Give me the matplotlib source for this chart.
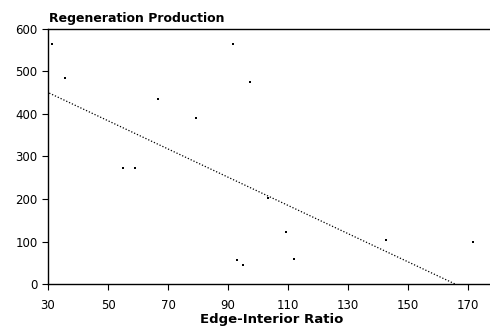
import matplotlib
matplotlib.use("Agg")
import matplotlib.pyplot as plt

# Data
ratio = [31.2, 35.7, 55.0, 59.0, 66.8, 79.3, 91.7, 92.9, 95.1, 97.3, 103.4, 109.2, 112.1, 142.6, 171.6]
production = [564, 484, 274, 274, 435, 390, 564, 56, 45, 475, 203, 122, 60, 104, 100]
fit_x = [30.4, 165.7]
fit_y = [449, 0]
xticks = [30, 50, 70, 90, 110, 130, 150, 170]
yticks = [0, 100, 200, 300, 400, 500, 600]

fig = plt.figure(figsize=(4.9, 3.28), dpi=100)
ax = fig.add_axes([0.098, 0.134, 0.902, 0.778])

ax.plot(fit_x, fit_y, linestyle=(0, (1, 1.5)), color="black", linewidth=0.9)
ax.scatter(ratio, production, s=3, color="black", marker="s", linewidths=0)

ax.set_xlim(30, 177.3)
ax.set_ylim(0, 600)
ax.set_xticks(xticks)
ax.set_yticks(yticks)
ax.tick_params(axis="both", labelsize=8.5, length=4, width=0.8, color="black", direction="out")
ax.tick_params(axis="x", pad=7)

ax.spines["right"].set_visible(False)
for s in ["left", "bottom", "top"]:
    ax.spines[s].set_linewidth(1.0)
    ax.spines[s].set_color("black")

ax.set_xlabel("Edge-Interior Ratio", fontsize=9.5, fontweight="bold")
ax.xaxis.set_label_coords(0.507, -0.112)
fig.text(0.100, 1 - 22 / 328, "Regeneration Production", fontsize=9, fontweight="bold",
         ha="left", va="baseline")

fig.savefig("out.png", dpi=100)
